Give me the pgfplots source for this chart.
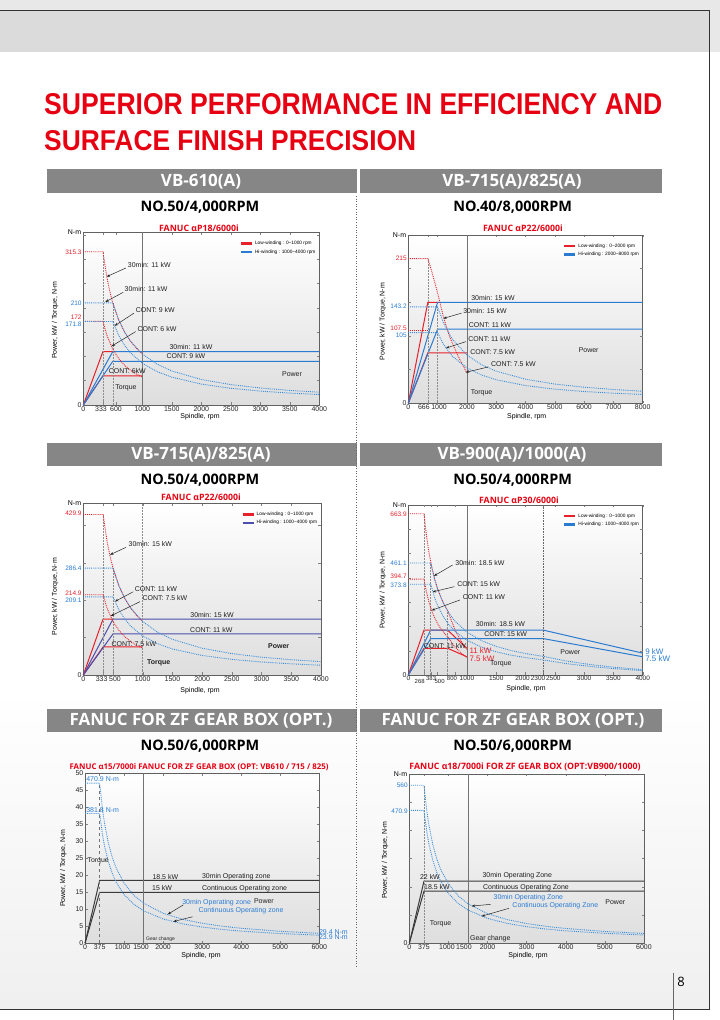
\documentclass[border=0pt]{standalone}
\usepackage{pgfplots}
\pgfplotsset{compat=1.18}
\usepackage{graphicx}
\usepackage{fontspec}
\setmainfont{Liberation Sans}
\newfontfamily\osans{Open Sans}
\usetikzlibrary{arrows.meta}

\definecolor{fred}{HTML}{E8202A}
\definecolor{fblue}{HTML}{2A7BD2}
\definecolor{tblue}{HTML}{3B8EDB}
\definecolor{navy}{HTML}{4B4FAE}
\definecolor{bargray}{HTML}{868686}
\definecolor{pgray}{HTML}{3A3A3A}
\definecolor{titlered}{HTML}{E60012}

\newcommand\ft{\fontsize{7}{8}\selectfont}
\newcommand\fv{\fontsize{6.5}{7.5}\selectfont}
\newcommand\fb{\fontsize{8}{9}\selectfont}
\newcommand\fl{\fontsize{4.8}{5.6}\selectfont}
\newcommand\shx[2]{\kern#1\relax#2\kern-#1\relax}

\pgfplotsset{
  chart/.style={
    scale only axis, anchor=north west, clip=false,
    xmin=0, ymin=0,
    axis line style={draw=black!62, line width=0.7bp},
    tick style={draw=black!50, line width=0.4bp},
    major tick length=2.5bp, tick align=inside,
    xticklabel style={font=\ft, text=black!85, inner sep=1pt},
    yticklabel style={font=\ft, text=black!85, inner sep=1.5pt},
    /pgf/number format/assume math mode=true,
    /pgf/number format/1000 sep={},
    scaled ticks=false,
    axis background/.style={top color=white, bottom color=black!13},
    legend style={at={(0.995,0.965)}, anchor=north east, draw=none, fill=none,
      font=\fl, inner sep=0.5pt, row sep=-0.5pt},
    legend cell align=left,
    legend image code/.code={\draw[##1, solid, line width=2.4bp] (0bp,0bp) -- (11bp,0bp);},
  },
  pw/.style={line width=1bp},
  tq/.style={line width=0.9bp, densely dotted},
  vl/.style={black!45, line width=0.5bp, densely dotted},
  gl/.style={black!55, line width=0.6bp},
}
\tikzset{
  arr/.style={-{Stealth[length=3.5bp,width=2.6bp]}, line width=0.5bp, black!85},
  ann/.style={font=\ft, text=black!88, inner sep=0pt},
  vlab/.style={anchor=east, font=\fv, xshift=-1.5bp, inner sep=0pt},
  nm/.style={anchor=east, font=\ft, xshift=-2bp, inner sep=0pt},
  stk/.style={font=\fontsize{6}{7}\selectfont, inner sep=0pt, text=black!85},
}

\begin{document}
\begin{tikzpicture}
\useasboundingbox (0bp,0bp) rectangle (720bp,1020bp);
\fill[white] (0bp,0bp) rectangle (720bp,1020bp);
\fill[top color=white, bottom color=black!6] (0bp,11bp) rectangle (709bp,330bp);

\begin{scope}[x=1bp,y=-1bp,yshift=1020bp]
  % header band and frame
  \fill[black!9] (0,0) rectangle (720,10);
  \fill[black!14] (0,10) rectangle (709,52);
  \fill[black!9] (709,10) rectangle (720,52);
  \draw[black!80, line width=0.8bp] (0,10) -- (709,10) -- (709,1009) -- (0,1009);
  \draw[black!60, line width=0.6bp] (673,973) -- (673,1020);
  \node[font=\osans\fontsize{13}{14}\selectfont] at (681,982) {8};

  % main title
  \node[anchor=west, inner sep=0pt, text=titlered] at (44,103.7)
    {\resizebox{618bp}{21bp}{\bfseries SUPERIOR PERFORMANCE IN EFFICIENCY AND}};
  \node[anchor=west, inner sep=0pt, text=titlered] at (44,140.3)
    {\resizebox{372bp}{20bp}{\bfseries SURFACE FINISH PRECISION}};

  % section bars
  \foreach \ya/\yb in {169/193, 443/466, 709/732}{
    \fill[bargray] (47,\ya) rectangle (357,\yb);
    \fill[bargray] (360,\ya) rectangle (662,\yb);
  }
  \tikzset{bar/.style={text=white, font=\osans\bfseries\fontsize{17}{18}\selectfont, inner sep=0pt}}
  \node[bar] at (201,181.5) {VB-610(A)};
  \node[bar] at (512,181.5) {VB-715(A)/825(A)};
  \node[bar] at (201,455) {VB-715(A)/825(A)};
  \node[bar] at (512,455) {VB-900(A)/1000(A)};
  \node[bar] at (201,721) {FANUC FOR ZF GEAR BOX (OPT.)};
  \node[bar] at (513,721) {FANUC FOR ZF GEAR BOX (OPT.)};

  \draw[black!60, line width=0.6bp, dotted] (356,196) -- (356,968);

  % subtitles
  \tikzset{sub/.style={font=\osans\bfseries\fontsize{14.5}{15}\selectfont, inner sep=0pt}}
  \node[sub] at (200,207) {NO.50/4,000RPM};
  \node[sub] at (512.7,207) {NO.40/8,000RPM};
  \node[sub] at (200,480) {NO.50/4,000RPM};
  \node[sub] at (512.7,480) {NO.50/4,000RPM};
  \node[sub] at (200,746.7) {NO.50/6,000RPM};
  \node[sub] at (512.7,746.7) {NO.50/6,000RPM};

  % chart titles
  \tikzset{ctt/.style={text=titlered, font=\osans\bfseries\fontsize{8.8}{9}\selectfont, inner sep=0pt}}
  \node[ctt] at (199,228) {FANUC αP18/6000i};
  \node[ctt] at (523,228) {FANUC αP22/6000i};
  \node[ctt] at (201,497.7) {FANUC αP22/6000i};
  \node[ctt] at (519,500) {FANUC αP30/6000i};
  \node[ctt, font=\osans\bfseries\fontsize{7.9}{8}\selectfont] at (199,766.7) {FANUC α15/7000i FANUC FOR ZF GEAR BOX (OPT: VB610 / 715 / 825)};
  \node[ctt] at (525,767) {FANUC α18/7000i FOR ZF GEAR BOX (OPT:VB900/1000)};

  % axis titles
  \tikzset{yl/.style={rotate=90, font=\ft, inner sep=0pt}, xl/.style={font=\ft, inner sep=0pt}}
  \node[yl] at (55,320) {Power, kW / Torque, N-m};
  \node[yl] at (382.7,321.7) {Power, kW / Torque, N-m};
  \node[yl] at (55,596.7) {Power, kW / Torque, N-m};
  \node[yl] at (382.7,590) {Power, kW / Torque, N-m};
  \node[yl] at (63.3,868) {Power, kW / Torque, N-m};
  \node[yl] at (385,860) {Power, kW / Torque, N-m};
  \node[xl] at (200,416.7) {Spindle, rpm};
  \node[xl] at (526.7,416.7) {Spindle, rpm};
  \node[xl] at (200,690.7) {Spindle, rpm};
  \node[xl] at (526,688.3) {Spindle, rpm};
  \node[xl] at (201,955.7) {Spindle, rpm};
  \node[xl] at (528,955.7) {Spindle, rpm};
\end{scope}

% ---------------- chart 1 : VB-610(A)
\begin{axis}[chart, at={(83.3bp,787.5bp)}, width=236bp, height=172.5bp,
  xmax=4000, ymax=355,
  xtick={0,333,555,1000,1500,2000,2500,3000,3500,4000},
  xticklabels={0,\shx{-2bp}{333},600,1000,1500,2000,2500,3000,3500,4000},
  ytick={0}, extra y ticks={50,100,...,350}, extra y tick labels={}]
  \addplot[fred, pw] coordinates {(0,0)(333,110)(500,110)};
  \addlegendentry{Low-winding : 0\textasciitilde1000 rpm}
  \addplot[fblue, pw] coordinates {(0,0)(500,110)(4000,110)};
  \addlegendentry{Hi-winding : 1000\textasciitilde4000 rpm}
  \addplot[fred, pw, forget plot] coordinates {(0,0)(333,60)(1000,60)};
  \addplot[fblue, pw, forget plot] coordinates {(0,0)(500,90)(4000,90)};
  \addplot[vl, forget plot] coordinates {(333,0)(333,315.3)};
  \addplot[vl, forget plot] coordinates {(500,0)(500,210)};
  \addplot[gl, forget plot] coordinates {(1000,0)(1000,355)};
  \addplot[fred, tq, forget plot] coordinates {(0,315.3)(333,315.3)(400,262.5)(450,233.3)(500,210)(600,175)(700,150)(800,131.3)(900,116.7)(1000,105)};
  \addplot[fred, tq, forget plot] coordinates {(0,172)(333,172)(400,143.2)(500,114.6)(600,95.5)(700,81.8)(800,71.6)(900,63.6)(1000,57.3)};
  \addplot[tblue, tq, forget plot] coordinates {(0,210)(500,210)(600,175)(700,150)(800,131.3)(1000,105)(1250,84)(1500,70)(2000,52.5)(2500,42)(3000,35)(3500,30)(4000,26.3)};
  \addplot[tblue, tq, forget plot] coordinates {(0,171.8)(500,171.8)(600,143.2)(700,122.7)(800,107.4)(1000,85.9)(1250,68.7)(1500,57.3)(2000,43)(2500,34.4)(3000,28.6)(3500,24.5)(4000,21.5)};
  \node[nm] at (rel axis cs:0,1) {N-m};
  \node[vlab, text=fred] at (axis cs:0,315.3) {315.3};
  \node[vlab, text=fblue] at (axis cs:0,210) {210};
  \node[vlab, text=fred] at (axis cs:0,181.6) {172};
  \node[vlab, text=fblue] at (axis cs:0,165.2) {171.8};
  \node[ann] at (axis cs:1119,288) {30min: 11 kW};
  \draw[arr] (axis cs:723,282) -- (axis cs:395,264);
  \node[ann] at (axis cs:1064,239) {30min: 11 kW};
  \draw[arr] (axis cs:678,232) -- (axis cs:373,212);
  \node[ann] at (axis cs:1220,196) {CONT: 9 kW};
  \draw[arr] (axis cs:859,189) -- (axis cs:531,163);
  \node[ann] at (axis cs:1249,156) {CONT: 6 kW};
  \draw[arr] (axis cs:887,151) -- (axis cs:480,121);
  \node[ann] at (axis cs:1825,119) {30min: 11 kW};
  \node[ann] at (axis cs:1740,101) {CONT: 9 kW};
  \node[ann] at (axis cs:746,70) {CONT: 6kW};
  \node[ann] at (axis cs:723,36) {Torque};
  \node[ann] at (axis cs:3537,63) {Power};
\end{axis}

% ---------------- chart 2 : VB-715(A)/825(A) NO.40
\begin{axis}[chart, at={(408.3bp,785bp)}, width=234.4bp, height=168.3bp,
  xmax=8000, ymax=250,
  xtick={0,666,1000,2000,3000,4000,5000,6000,7000,8000},
  xticklabels={0,\shx{-4bp}{666},\shx{1.5bp}{1000},2000,3000,4000,5000,6000,7000,8000},
  ytick={0}, extra y ticks={50,100,150,200}, extra y tick labels={}]
  \addplot[fred, pw] coordinates {(0,0)(666,150)(1000,150)};
  \addlegendentry{Low-winding : 0\textasciitilde2000 rpm}
  \addplot[fblue, pw] coordinates {(0,0)(1000,150)(8000,150)};
  \addlegendentry{Hi-winding : 2000\textasciitilde8000 rpm}
  \addplot[fred, pw, forget plot] coordinates {(0,0)(666,75)(2000,75)};
  \addplot[fblue, pw, forget plot] coordinates {(0,0)(1000,110)(8000,110)};
  \addplot[vl, forget plot] coordinates {(666,0)(666,215)};
  \addplot[vl, forget plot] coordinates {(1000,0)(1000,143.2)};
  \addplot[gl, forget plot] coordinates {(2000,0)(2000,250)};
  \addplot[fred, tq, forget plot] coordinates {(0,215)(666,215)(800,196)(1000,164)(1200,128)(1400,100)(1700,70)(2000,45)};
  \addplot[fred, tq, forget plot] coordinates {(0,107.5)(666,107.5)};
  \addplot[tblue, tq, forget plot] coordinates {(0,143.2)(1000,143.2)(1200,119.3)(1500,95.5)(2000,71.6)(2500,57.3)(3000,47.7)(4000,35.8)(5000,28.6)(6000,23.9)(7000,20.5)(8000,17.9)};
  \addplot[tblue, tq, forget plot] coordinates {(0,105)(1000,105)(1200,87.5)(1500,70)(2000,52.5)(2500,42)(3000,35)(4000,26.3)(5000,21)(6000,17.5)(7000,15)(8000,13.1)};
  \node[nm] at (rel axis cs:0,1) {N-m};
  \node[vlab, text=fred] at (axis cs:0,215) {215};
  \node[vlab, text=fblue] at (axis cs:0,143.6) {143.2};
  \node[vlab, text=fred] at (axis cs:0,111.5) {107.5};
  \node[vlab, text=fblue] at (axis cs:0,101.5) {105};
  \node[ann] at (axis cs:2890,157) {30min: 15 kW};
  \node[ann] at (axis cs:2617,137.6) {30min: 15 kW};
  \draw[arr] (axis cs:1820,134) -- (axis cs:1195,126);
  \node[ann] at (axis cs:2788,116) {CONT: 11 kW};
  \node[ann] at (axis cs:2765,95.5) {CONT: 11 kW};
  \draw[arr] (axis cs:1968,91.6) -- (axis cs:1286,82);
  \node[ann] at (axis cs:2879,76) {CONT: 7.5 kW};
  \node[ann] at (axis cs:3585,59) {CONT: 7.5 kW};
  \draw[arr] (axis cs:2731,54) -- (axis cs:1960,46);
  \node[ann] at (axis cs:6156,79) {Power};
  \node[ann] at (axis cs:2503,15) {Torque};
\end{axis}

% ---------------- chart 3 : VB-715(A)/825(A) NO.50
\begin{axis}[chart, at={(83.3bp,516.7bp)}, width=237.7bp, height=171.7bp,
  xmax=4000, ymax=460,
  xtick={0,333,500,1000,1500,2000,2500,3000,3500,4000},
  xticklabels={0,\shx{-1.5bp}{333},\shx{2bp}{500},1000,1500,2000,2500,3000,3500,4000},
  ytick={0}, extra y ticks={100,200,300,400}, extra y tick labels={}]
  \addplot[fred, pw] coordinates {(0,0)(333,150)(500,150)};
  \addlegendentry{Low-winding : 0\textasciitilde1000 rpm}
  \addplot[navy, pw] coordinates {(0,0)(500,150)(4000,150)};
  \addlegendentry{Hi-winding : 1000\textasciitilde4000 rpm}
  \addplot[fred, pw, forget plot] coordinates {(0,0)(333,75)(1000,75)};
  \addplot[navy, pw, forget plot] coordinates {(0,0)(500,110)(4000,110)};
  \addplot[vl, forget plot] coordinates {(333,0)(333,429.9)};
  \addplot[vl, forget plot] coordinates {(500,0)(500,286.4)};
  \addplot[vl, forget plot] coordinates {(1000,0)(1000,460)};
  \addplot[fred, tq, forget plot] coordinates {(0,429.9)(333,429.9)(400,357.9)(450,318.1)(500,286.3)(600,238.6)(700,204.5)(800,178.9)(900,159.1)(1000,143.2)};
  \addplot[fred, tq, forget plot] coordinates {(0,214.9)(333,214.9)(400,178.9)(500,143.1)(600,119.3)(700,102.2)(800,89.5)(900,79.5)(1000,71.6)};
  \addplot[tblue, tq, forget plot] coordinates {(0,286.4)(500,286.4)(600,238.7)(700,204.6)(800,179)(1000,143.2)(1250,114.6)(1500,95.5)(2000,71.6)(2500,57.3)(3000,47.7)(3500,40.9)(4000,35.8)};
  \addplot[tblue, tq, forget plot] coordinates {(0,209.1)(500,209.1)(600,174.3)(700,149.4)(800,130.7)(1000,104.6)(1250,83.6)(1500,69.7)(2000,52.3)(2500,41.8)(3000,34.9)(3500,29.9)(4000,26.1)};
  \node[nm] at (rel axis cs:0,1) {N-m};
  \node[vlab, text=fred] at (axis cs:0,432) {429.9};
  \node[vlab, text=fblue] at (axis cs:0,285.8) {286.4};
  \node[vlab, text=fred] at (axis cs:0,219.5) {214.9};
  \node[vlab, text=fblue] at (axis cs:0,201) {209.1};
  \node[ann] at (axis cs:1128,350) {30min: 15 kW};
  \draw[arr] (axis cs:718,342) -- (axis cs:449,322);
  \node[ann] at (axis cs:1223,230) {CONT: 11 kW};
  \draw[arr] (axis cs:841,223) -- (axis cs:533,197);
  \node[ann] at (axis cs:1374,205) {CONT: 7.5 kW};
  \draw[arr] (axis cs:954,196.5) -- (axis cs:460,158);
  \node[ann] at (axis cs:2166,162) {30min: 15 kW};
  \node[ann] at (axis cs:2154,120.6) {CONT: 11 kW};
  \node[ann] at (axis cs:853,83) {CONT: 7.5 kW};
  \node[ann, font=\ft\bfseries] at (axis cs:1268,33) {Torque};
  \node[ann, font=\ft\bfseries] at (axis cs:3288,78.6) {Power};
\end{axis}

% ---------------- chart 4 : VB-900(A)/1000(A)
\begin{axis}[chart, at={(408.3bp,515bp)}, width=234.4bp, height=170bp,
  xmax=4000, ymax=700,
  xtick={0,1000,1500,2000,2300,2500,3000,3500,4000},
  xticklabels={0,1000,1500,\shx{-3bp}{2000},\shx{-5bp}{2300},\shx{-1.5bp}{2500},3000,3500,4000},
  xticklabel style={font=\fontsize{6.5}{7}\selectfont},
  extra x ticks={268,383,500,800}, extra x tick labels={},
  ytick={0}, extra y ticks={100,200,...,600}, extra y tick labels={}]
  \addplot[fred, pw] coordinates {(0,0)(268,185)(670,185)(1000,110)};
  \addlegendentry{Low-winding : 0\textasciitilde1000 rpm}
  \addplot[fblue, pw] coordinates {(0,0)(383,185)(2300,185)(4000,90)};
  \addlegendentry{Hi-winding : 1000\textasciitilde4000 rpm}
  \addplot[fred, pw, forget plot] coordinates {(0,0)(268,110)(670,110)(1000,75)};
  \addplot[fblue, pw, forget plot] coordinates {(0,0)(383,150)(2300,150)(4000,75)};
  \addplot[vl, forget plot] coordinates {(268,0)(268,663.9)};
  \addplot[vl, forget plot] coordinates {(383,0)(383,461.1)};
  \addplot[vl, forget plot] coordinates {(670,0)(670,266)};
  \addplot[gl, forget plot] coordinates {(1000,0)(1000,700)};
  \addplot[black!60, line width=0.6bp, densely dotted, forget plot] coordinates {(2300,0)(2300,700)};
  \addplot[fred, tq, forget plot] coordinates {(0,663.9)(268,663.9)(300,593)(350,508)(400,444.8)(450,395.4)(500,355.9)(550,323.5)(600,296.5)(670,265.6)(800,184)(900,140.2)(1000,105)};
  \addplot[fred, tq, forget plot] coordinates {(0,394.7)(268,394.7)(300,352.6)(350,302.2)(400,264.5)(450,235)(500,211.6)(550,192.3)(600,176.3)(670,157.9)(800,114.1)(900,90.5)(1000,71.6)};
  \addplot[tblue, tq, forget plot] coordinates {(0,461.1)(383,461.1)(450,392.4)(500,353.2)(600,294.3)(700,252.3)(800,220.8)(1000,176.6)(1250,141.3)(1500,117.7)(1750,100.9)(2000,88.3)(2300,76.8)(2700,57.5)(3100,43.2)(3500,32.2)(4000,21.5)};
  \addplot[tblue, tq, forget plot] coordinates {(0,373.8)(383,373.8)(450,318.1)(500,286.3)(600,238.6)(700,204.5)(800,179)(1000,143.2)(1250,114.5)(1500,95.4)(1750,81.8)(2000,71.6)(2300,62.2)(2700,46.8)(3100,35.3)(3500,26.5)(4000,17.9)};
  \node[nm] at (rel axis cs:0,1) {N-m};
  \node[vlab, text=fred] at (axis cs:0,663) {663.9};
  \node[vlab, text=fblue] at (axis cs:0,460) {461.1};
  \node[vlab, text=fred] at (axis cs:0,405) {394.7};
  \node[vlab, text=fblue] at (axis cs:0,369) {373.8};
  \node[stk] at (axis cs:195,0) [yshift=-6bp] {268};
  \node[stk] at (axis cs:390,0) [yshift=-3bp] {383};
  \node[stk] at (axis cs:535,0) [yshift=-6bp] {500};
  \node[stk] at (axis cs:745,0) [yshift=-3bp] {800};
  \node[ann] at (axis cs:1223,462.5) {30min: 18.5 kW};
  \draw[arr] (axis cs:757,453) -- (axis cs:438,408);
  \node[ann] at (axis cs:1200,374.7) {CONT: 15 kW};
  \draw[arr] (axis cs:785,363.7) -- (axis cs:415,342);
  \node[ann] at (axis cs:1292,320) {CONT: 11 kW};
  \draw[arr] (axis cs:882,309) -- (axis cs:398,266);
  \node[ann] at (axis cs:1570,208.6) {30min: 18.5 kW};
  \node[ann] at (axis cs:1661,168.8) {CONT: 15 kW};
  \node[ann] at (axis cs:626,120.8) {CONT: 11 kW};
  \node[ann, anchor=west, font=\fb, text=fred] at (axis cs:1041,100) {11 kW};
  \node[ann, anchor=west, font=\fb, text=fred] at (axis cs:1041,66) {7.5 kW};
  \node[ann] at (axis cs:1580,44) {Torque};
  \node[ann] at (axis cs:2765,93) {Power};
  \node[ann, anchor=west, font=\fb, text=fblue] at (axis cs:4040,97.5) {9 kW};
  \node[ann, anchor=west, font=\fb, text=fblue] at (axis cs:4040,68.6) {7.5 kW};
\end{axis}

% ---------------- chart 5 : ZF gear box, alpha 15
\begin{axis}[chart, at={(85bp,246.7bp)}, width=234.3bp, height=170bp,
  xmax=6000, ymax=50,
  xtick={0,375,1000,1500,2000,3000,4000,5000,6000},
  xticklabels={0,375,\shx{-1.5bp}{1000},\shx{-2.5bp}{1500},2000,3000,4000,5000,6000},
  ytick={0,5,...,50}]
  \addplot[pgray, pw] coordinates {(0,0)(375,18.5)(6000,18.5)};
  \addplot[pgray, pw] coordinates {(0,0)(375,15)(6000,15)};
  \addplot[black!55, line width=0.6bp, dashed] coordinates {(375,0)(375,47.09)};
  \addplot[gl] coordinates {(1500,0)(1500,50)};
  \addplot[tblue, tq] coordinates {(0,47.09)(375,47.09)(450,39.2)(500,35.3)(600,29.4)(700,25.2)(800,22.1)(1000,17.7)(1250,14.1)(1500,11.8)(2000,8.83)(2500,7.06)(3000,5.89)(3500,5.05)(4000,4.41)(5000,3.53)(6000,2.94)};
  \addplot[tblue, tq] coordinates {(0,38.18)(375,38.18)(450,31.8)(500,28.6)(600,23.9)(700,20.5)(800,17.9)(1000,14.3)(1250,11.5)(1500,9.55)(2000,7.16)(2500,5.73)(3000,4.77)(3500,4.09)(4000,3.58)(5000,2.86)(6000,2.39)};
  \node[ann, anchor=west, text=fblue] at (axis cs:30,48.4) {470.9 N-m};
  \node[ann, anchor=west, text=fblue] at (axis cs:30,39.3) {381.8 N-m};
  \node[ann, anchor=west] at (axis cs:60,24.3) {Torque};
  \node[ann] at (axis cs:2057,19.6) {18.5 kW};
  \node[ann] at (axis cs:3875,19.6) {30min Operating zone};
  \node[ann] at (axis cs:1972,16.2) {15 kW};
  \node[ann] at (axis cs:4088,16.2) {Continuous Operating zone};
  \node[ann, text=fblue] at (axis cs:3371,12) {30min Operating zone};
  \draw[arr] (axis cs:2518,11.3) -- (axis cs:2117,8.5);
  \node[ann, anchor=west] at (axis cs:4324,12.3) {Power};
  \node[ann, text=fblue] at (axis cs:3994,9.6) {Continuous Operating zone};
  \draw[arr] (axis cs:2757,7.8) -- (axis cs:2263,6.4);
  \node[ann, anchor=west, text=fblue] at (axis cs:5990,3.4) {29.4 N-m};
  \node[ann, anchor=west, text=fblue] at (axis cs:5990,1.9) {23.9 N-m};
  \node[ann, anchor=west, font=\fontsize{5}{6}\selectfont] at (axis cs:1562,1.2) {Gear change};
\end{axis}

% ---------------- chart 6 : ZF gear box, alpha 18
\begin{axis}[chart, at={(409.3bp,246bp)}, width=234.7bp, height=169.3bp,
  xmax=6000, ymax=600,
  xtick={0,375,1000,1500,2000,3000,4000,5000,6000},
  xticklabels={0,375,\shx{-1.5bp}{1000},\shx{-4bp}{1500},2000,3000,4000,5000,6000},
  ytick={0}, extra y ticks={100,200,...,500}, extra y tick labels={}]
  \addplot[pgray, pw] coordinates {(0,0)(375,220)(6000,220)};
  \addplot[pgray, pw] coordinates {(0,0)(375,185)(6000,185)};
  \addplot[vl] coordinates {(375,0)(375,560)};
  \addplot[gl] coordinates {(1500,0)(1500,600)};
  \addplot[tblue, tq] coordinates {(0,560)(375,560)(450,466.7)(500,420)(600,350)(700,300)(800,262.5)(1000,210)(1250,168)(1500,140)(2000,105)(2500,84)(3000,70)(3500,60)(4000,52.5)(5000,42)(6000,35)};
  \addplot[tblue, tq] coordinates {(0,470.9)(375,470.9)(450,392.4)(500,353.2)(600,294.3)(700,252.3)(800,220.7)(1000,176.6)(1250,141.3)(1500,117.7)(2000,88.3)(2500,70.6)(3000,58.9)(3500,50.5)(4000,44.1)(5000,35.3)(6000,29.4)};
  \node[nm] at (rel axis cs:0,1) {N-m};
  \node[vlab, text=fblue] at (axis cs:0,559) {560};
  \node[vlab, text=fblue] at (axis cs:0,469) {470.9};
  \node[ann] at (axis cs:528,234) {22 kW};
  \node[ann] at (axis cs:707,200) {18.5 kW};
  \node[ann] at (axis cs:2761,240) {30min Operating Zone};
  \node[ann] at (axis cs:2983,198.4) {Continuous Operating Zone};
  \node[ann, text=fblue] at (axis cs:3043,162) {30min Operating Zone};
  \draw[arr] (axis cs:2080,138) -- (axis cs:1594,132);
  \node[ann, text=fblue] at (axis cs:3733,134.6) {Continuous Operating Zone};
  \draw[arr] (axis cs:2548,124) -- (axis cs:1849,96);
  \node[ann] at (axis cs:5267,147.6) {Power};
  \node[ann] at (axis cs:801,68.5) {Torque};
  \node[ann] at (axis cs:2071,15.4) {Gear change};
\end{axis}
\end{tikzpicture}
\end{document}
